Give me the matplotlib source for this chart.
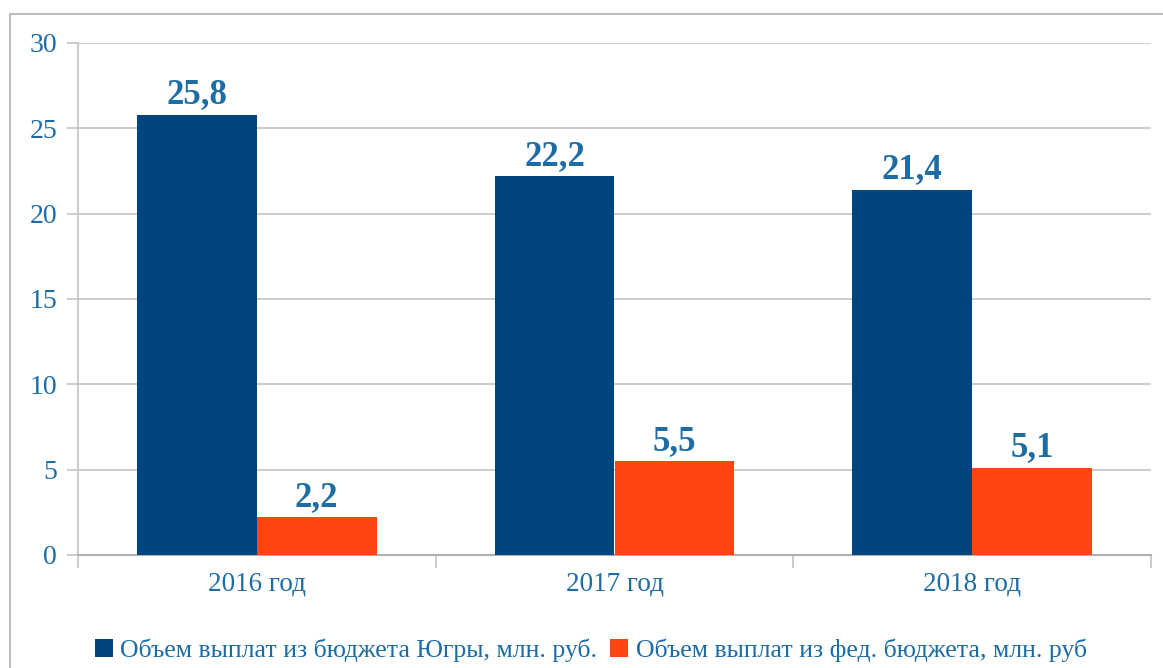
import matplotlib.pyplot as plt
import matplotlib.patches as mpatches
import numpy as np

years = ["2016 год", "2017 год", "2018 год"]
yugra = [25.8, 22.2, 21.4]
fed = [2.2, 5.5, 5.1]
series_names = ["Объем выплат из бюджета Югры, млн. руб.",
                "Объем выплат из фед. бюджета, млн. руб"]

blue = "#00457f"
orange = "#ff4511"
txt = "#1d6ca3"
grid_c = "#c4c4c4"

plt.rcParams['font.family'] = ['Liberation Serif', 'DejaVu Serif']

fig = plt.figure(figsize=(11.63, 6.68), dpi=100)
ax = fig.add_axes([78 / 1163, 113 / 668, (1151 - 78) / 1163, (555 - 43) / 668])

# outer frame (partially cropped like the original)
fig.patches.append(mpatches.Rectangle((10 / 1163, -0.1), 1.2, (668 - 14) / 668 + 0.1,
                                      transform=fig.transFigure, fill=False,
                                      edgecolor="#bdbdbd", linewidth=1.5))

x = np.arange(len(years))
w = 0.335
b1 = ax.bar(x - w / 2, yugra, w, color=blue, label=series_names[0], zorder=3)
b2 = ax.bar(x + w / 2, fed, w, color=orange, label=series_names[1], zorder=3)

for rects, vals in ((b1, yugra), (b2, fed)):
    for r, v in zip(rects, vals):
        ax.annotate(f"{v:.1f}".replace(".", ","), (r.get_x() + r.get_width() / 2, v),
                    xytext=(0, 2.5), textcoords="offset points", ha="center", va="bottom",
                    fontsize=25, fontweight="bold", color=txt)

ax.set_xlim(-0.5, 2.5)
ax.set_ylim(0, 30)
ax.set_yticks(range(0, 31, 5))
ax.tick_params(axis="y", labelsize=20, labelcolor=txt, color=grid_c, length=8, width=1.2, pad=7)
ax.set_xticks(x)
ax.set_xticklabels(years)
ax.tick_params(axis="x", labelsize=19.5, labelcolor=txt, length=0, pad=12)
# separators between categories on the x axis
ax.set_xticks([-0.5, 0.5, 1.5, 2.5], minor=True)
ax.tick_params(axis="x", which="minor", length=9, color=grid_c, width=1.2)

ax.grid(axis="y", color=grid_c, linewidth=1.2, zorder=0)
for s in ("top", "right"):
    ax.spines[s].set_visible(False)
ax.spines["left"].set_color(grid_c)
ax.spines["bottom"].set_color("#b0b0b0")
ax.spines["left"].set_linewidth(1.2)
ax.spines["bottom"].set_linewidth(1.5)

leg = fig.legend(handles=[b1, b2], loc="center", bbox_to_anchor=(0.508, (668 - 650) / 668),
                 ncol=2, frameon=False, fontsize=18.5, handlelength=0.7, handleheight=0.7,
                 handletextpad=0.3, columnspacing=0.5)
for t in leg.get_texts():
    t.set_color(txt)

fig.savefig("out.png", dpi=100)
